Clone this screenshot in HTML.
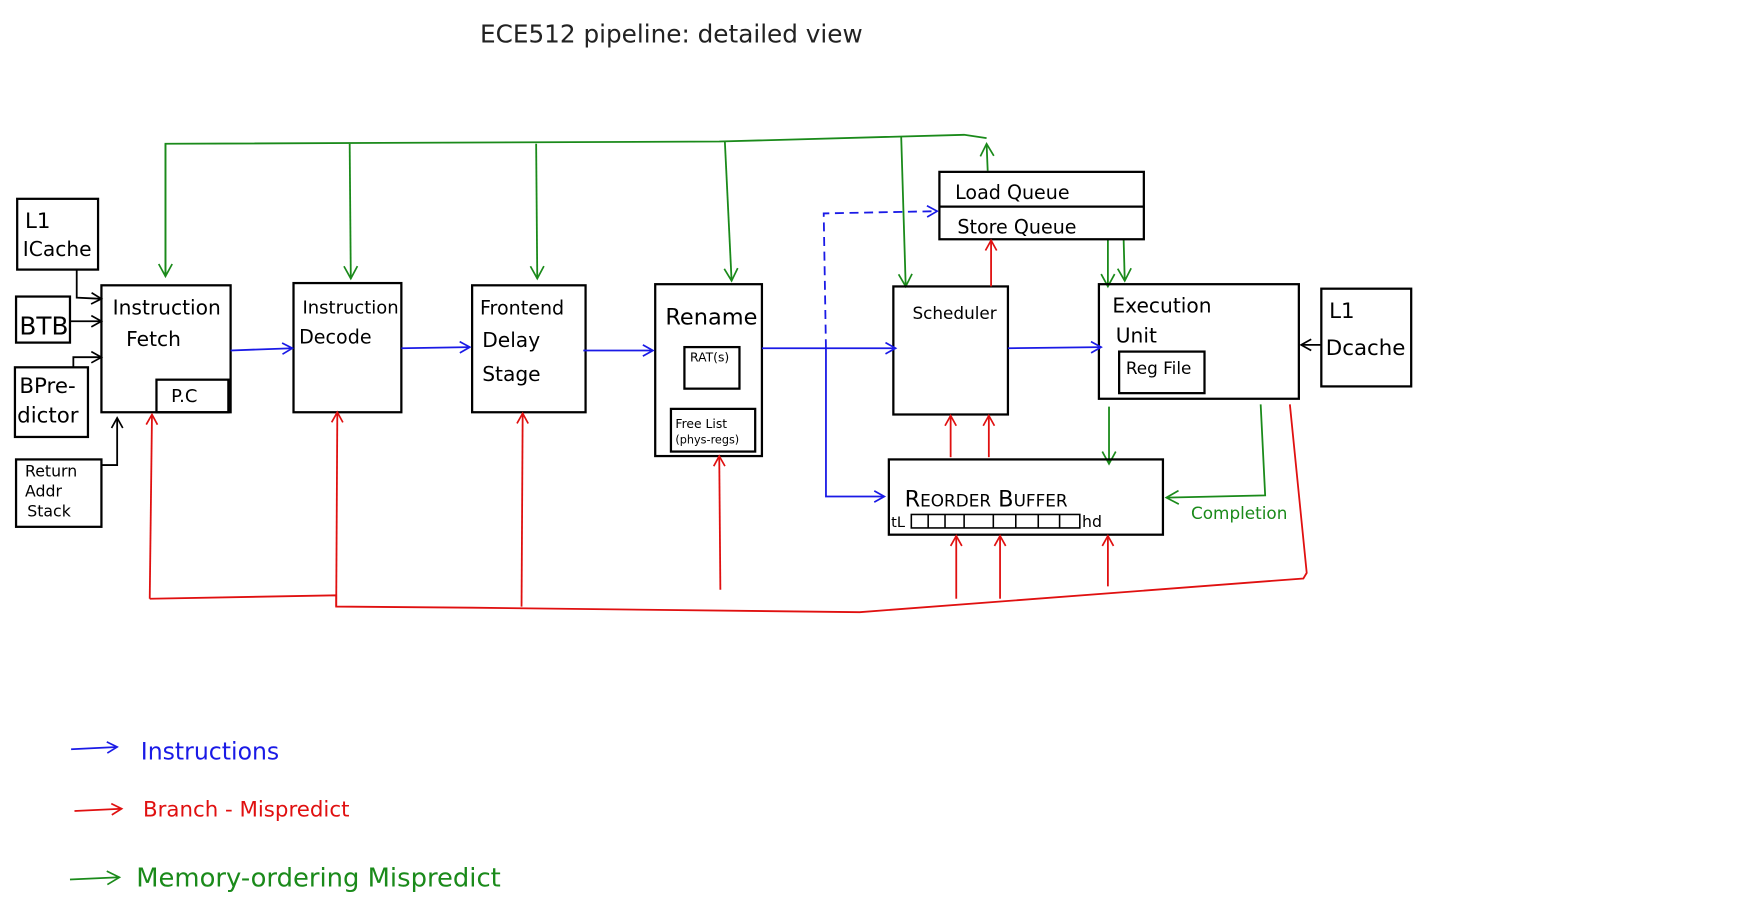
<!DOCTYPE html>
<html><head><meta charset="utf-8"><style>
html,body{margin:0;padding:0;background:#fff;}
svg{display:block}
text{font-family:"DejaVu Sans","Liberation Sans",sans-serif;}
</style></head><body>
<svg width="1753" height="902" viewBox="0 0 1560 803" xmlns="http://www.w3.org/2000/svg">
<defs>
<marker id="ab" markerWidth="12" markerHeight="12" refX="10" refY="6" orient="auto" markerUnits="userSpaceOnUse"><path d="M1,1 L10,6 L1,11" fill="none" stroke="#1a1ae6" stroke-width="1.5"/></marker>
<marker id="ar" markerWidth="12" markerHeight="12" refX="10" refY="6" orient="auto" markerUnits="userSpaceOnUse"><path d="M1,1 L10,6 L1,11" fill="none" stroke="#e01010" stroke-width="1.5"/></marker>
<marker id="ag" markerWidth="14" markerHeight="14" refX="12" refY="7" orient="auto" markerUnits="userSpaceOnUse"><path d="M1,1 L12,7 L1,13" fill="none" stroke="#1a8a1a" stroke-width="1.5"/></marker>
<marker id="ak" markerWidth="12" markerHeight="12" refX="10" refY="6" orient="auto" markerUnits="userSpaceOnUse"><path d="M1,1 L10,6 L1,11" fill="none" stroke="#000" stroke-width="1.5"/></marker>
</defs>
<text x="427" y="38" font-size="22" fill="#222">ECE512  pipeline: detailed view</text>

<!-- green top lines -->
<g stroke="#1a8a1a" stroke-width="1.6" fill="none">
<path d="M147,246 L147,128 L640,126 L858,120 L878,123"/>
<path d="M147,128 L147,246" marker-end="url(#ag)"/>
<path d="M311,128 L312,248" marker-end="url(#ag)"/>
<path d="M477,128 L478,248" marker-end="url(#ag)"/>
<path d="M645,126 L651,250" marker-end="url(#ag)"/>
<path d="M802,122 L806,255" marker-end="url(#ag)"/>
<path d="M879,152 L878,128" marker-end="url(#ag)"/>
<path d="M986,213 L986,255" marker-end="url(#ag)"/>
<path d="M1000,213 L1001,250" marker-end="url(#ag)"/>
<path d="M987,362 L987,413" marker-end="url(#ag)"/>
<path d="M1122,360 L1126,441 L1038,443" marker-end="url(#ag)"/>
</g>
<text x="1060" y="462" font-size="15" fill="#1a8a1a">Completion</text>

<!-- boxes -->
<g stroke="#000" stroke-width="2" fill="none">
<rect x="15" y="177" width="72" height="63"/>
<rect x="14" y="264" width="48" height="41"/>
<rect x="13" y="327" width="65" height="62"/>
<rect x="14" y="409" width="76" height="60"/>
<rect x="90" y="254" width="115" height="113"/>
<rect x="139" y="338" width="64" height="29"/>
<rect x="261" y="252" width="96" height="115"/>
<rect x="420" y="254" width="101" height="113"/>
<rect x="583" y="253" width="95" height="153"/>
<rect x="609" y="309" width="49" height="37"/>
<rect x="597" y="364" width="75" height="38"/>
<rect x="795" y="255" width="102" height="114"/>
<rect x="836" y="153" width="182" height="60"/>
<line x1="836" y1="184" x2="1018" y2="184"/>
<rect x="978" y="253" width="178" height="102"/>
<rect x="996" y="313" width="76" height="37"/>
<rect x="1176" y="257" width="80" height="87"/>
<rect x="791" y="409" width="244" height="67"/>
</g>
<g stroke="#000" stroke-width="1.4" fill="none">
<rect x="811" y="458" width="150" height="12"/>
<line x1="826" y1="458" x2="826" y2="470"/><line x1="841" y1="458" x2="841" y2="470"/>
<line x1="858" y1="458" x2="858" y2="470"/><line x1="884" y1="458" x2="884" y2="470"/>
<line x1="904" y1="458" x2="904" y2="470"/><line x1="924" y1="458" x2="924" y2="470"/>
<line x1="943" y1="458" x2="943" y2="470"/>
</g>

<!-- black side arrows -->
<g stroke="#000" stroke-width="1.6" fill="none">
<path d="M68,240 L68,265 L90,266" marker-end="url(#ak)"/>
<path d="M62,286 L90,286" marker-end="url(#ak)"/>
<path d="M65,327 L65,318 L90,318" marker-end="url(#ak)"/>
<path d="M90,414 L104,414 L104,372" marker-end="url(#ak)"/>
<path d="M1176,307 L1158,307" marker-end="url(#ak)"/>
</g>

<!-- text in boxes -->
<g fill="#000" font-size="19">
<text x="22" y="203">L1</text>
<text x="20" y="228" font-size="18">ICache</text>
<text x="17" y="298" font-size="22">BTB</text>
<text x="17" y="350">BPre-</text>
<text x="15" y="376">dictor</text>
<text x="22" y="424" font-size="14">Return</text>
<text x="22" y="442" font-size="14">Addr</text>
<text x="24" y="460" font-size="14">Stack</text>
<text x="100" y="280" font-size="18">Instruction</text>
<text x="112" y="308" font-size="18">Fetch</text>
<text x="152" y="358" font-size="16">P.C</text>
<text x="269" y="279" font-size="16">Instruction</text>
<text x="266" y="306" font-size="17">Decode</text>
<text x="427" y="280" font-size="17">Frontend</text>
<text x="429" y="309" font-size="18">Delay</text>
<text x="429" y="339" font-size="18">Stage</text>
<text x="592" y="289" font-size="20">Rename</text>
<text x="614" y="322" font-size="11">RAT(s)</text>
<text x="601" y="381" font-size="11">Free List</text>
<text x="601" y="395" font-size="10">(phys-regs)</text>
<text x="812" y="284" font-size="15">Scheduler</text>
<text x="850" y="177" font-size="17">Load  Queue</text>
<text x="852" y="208" font-size="17">Store  Queue</text>
<text x="990" y="278" font-size="18">Execution</text>
<text x="993" y="305" font-size="18">Unit</text>
<text x="1002" y="333" font-size="15">Reg File</text>
<text x="1183" y="283" font-size="19">L1</text>
<text x="1180" y="316" font-size="19">Dcache</text>
<text x="805" y="451" font-size="20">R<tspan font-size="15">EORDER</tspan>   B<tspan font-size="15">UFFER</tspan></text>
<text x="793" y="469" font-size="13">tL</text>
<text x="963" y="469" font-size="14">hd</text>
</g>

<!-- blue -->
<g stroke="#1a1ae6" stroke-width="1.6" fill="none">
<path d="M205,312 L260,310" marker-end="url(#ab)"/>
<path d="M357,310 L418,309" marker-end="url(#ab)"/>
<path d="M519,312 L581,312" marker-end="url(#ab)"/>
<path d="M678,310 L797,310" marker-end="url(#ab)"/>
<path d="M735,310 L735,442 L787,442" marker-end="url(#ab)"/>
<path d="M897,310 L980,309" marker-end="url(#ab)"/>
<path d="M735,310 L733,190 L834,188" stroke-dasharray="8,5" marker-end="url(#ab)"/>
</g>

<!-- red -->
<g stroke="#e01010" stroke-width="1.6" fill="none">
<path d="M133,533 L135,369" marker-end="url(#ar)"/>
<path d="M299,540 L300,367" marker-end="url(#ar)"/>
<path d="M464,540 L465,368" marker-end="url(#ar)"/>
<path d="M641,525 L640,406" marker-end="url(#ar)"/>
<path d="M133,533 L299,530 L299,540 L420,541 L765,545 L1160,515 L1163,510 L1148,360"/>
<path d="M846,407 L846,370" marker-end="url(#ar)"/>
<path d="M880,407 L880,370" marker-end="url(#ar)"/>
<path d="M882,255 L882,214" marker-end="url(#ar)"/>
<path d="M851,533 L851,477" marker-end="url(#ar)"/>
<path d="M890,533 L890,477" marker-end="url(#ar)"/>
<path d="M986,522 L986,477" marker-end="url(#ar)"/>
</g>

<!-- legend -->
<path d="M63,667 L104,665" stroke="#1a1ae6" stroke-width="1.6" fill="none" marker-end="url(#ab)"/>
<text x="125" y="676" font-size="21" fill="#1a1ae6">Instructions</text>
<path d="M66,722 L108,720" stroke="#e01010" stroke-width="1.6" fill="none" marker-end="url(#ar)"/>
<text x="127" y="727" font-size="19" fill="#e01010">Branch - Mispredict</text>
<path d="M62,783 L106,781" stroke="#1a8a1a" stroke-width="1.6" fill="none" marker-end="url(#ag)"/>
<text x="121" y="789" font-size="23" fill="#1a8a1a">Memory-ordering  Mispredict</text>
</svg>
</body></html>
